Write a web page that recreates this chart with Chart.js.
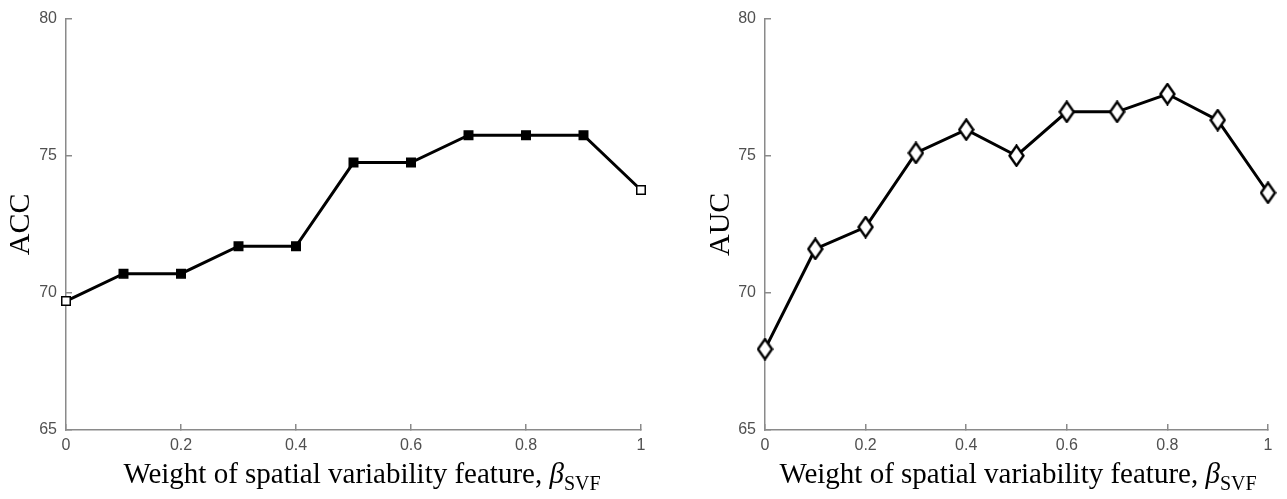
<!DOCTYPE html>
<html>
<head>
<meta charset="utf-8">
<script src="https://cdn.jsdelivr.net/npm/chart.js@4.4.0/dist/chart.umd.min.js"></script>
<style>
  html, body { margin: 0; padding: 0; background: #fff; }
  body { width: 1287px; height: 499px; position: relative; overflow: hidden; }
  .panel { position: absolute; top: -6px; }
  .xtitle { position: absolute; top: 457px; font-family: "Liberation Serif", "Times New Roman", serif; font-size: 29px; color: #000; white-space: nowrap; transform: translateX(-50%); }
  .xtitle sub { font-size: 20px; vertical-align: -7px; line-height: 0; }
</style>
</head>
<body>
<div class="panel" style="left:0px;"><canvas id="accChart" width="660" height="505"></canvas></div>
<div class="panel" style="left:700px;"><canvas id="aucChart" width="587" height="505"></canvas></div>
<div class="xtitle" id="xt1" style="left:362px;">Weight of spatial variability feature, <i>β</i><sub>SVF</sub></div>
<div class="xtitle" id="xt2" style="left:1018px;">Weight of spatial variability feature, <i>β</i><sub>SVF</sub></div>
<script>
const weights = [0, 0.1, 0.2, 0.3, 0.4, 0.5, 0.6, 0.7, 0.8, 0.9, 1];
const accValues = [69.7, 70.7, 70.7, 71.7, 71.7, 74.75, 74.75, 75.75, 75.75, 75.75, 73.75];
const aucValues = [67.95, 71.6, 72.4, 75.1, 75.95, 75.0, 76.6, 76.6, 77.25, 76.3, 73.65];
const xTickValues = [0, 0.2, 0.4, 0.6, 0.8, 1];
const yTickValues = [65, 70, 75, 80];

const axisColor = '#8a8a8a';
const tickFont = { family: 'Liberation Sans, Arial, sans-serif', size: 16 };
const tickColor = '#505050';

// tall diamond marker image (MATLAB-style 'd' marker)
function diamondImage() {
  const w = 17, h = 23;
  const c = document.createElement('canvas');
  c.width = w; c.height = h;
  const g = c.getContext('2d');
  g.beginPath();
  g.moveTo(w / 2, 1.5);
  g.lineTo(w - 1.5, h / 2);
  g.lineTo(w / 2, h - 1.5);
  g.lineTo(1.5, h / 2);
  g.closePath();
  g.fillStyle = '#fff';
  g.fill();
  g.lineWidth = 2.4;
  g.strokeStyle = '#000';
  g.lineJoin = 'miter';
  g.stroke();
  return c;
}

function makeChart(canvasId, values, yLabel, pointStyle, pointRadius, fillFn, yAxisWidth) {
  const n = values.length;
  return new Chart(document.getElementById(canvasId), {
    type: 'line',
    data: {
      datasets: [{
        data: weights.map((w, i) => ({ x: w, y: values[i] })),
        borderColor: '#000',
        borderWidth: 3,
        tension: 0,
        pointStyle: pointStyle,
        pointRadius: pointRadius,
        pointHoverRadius: pointRadius,
        pointBorderColor: '#000',
        pointBorderWidth: 1.5,
        pointBackgroundColor: ctx => fillFn(ctx.dataIndex, n),
        clip: false
      }]
    },
    options: {
      responsive: false,
      animation: false,
      events: [],
      layout: { padding: { top: 3, right: 19, left: 0, bottom: 0 } },
      plugins: { legend: { display: false }, tooltip: { enabled: false } },
      scales: {
        x: {
          type: 'linear',
          min: 0, max: 1,
          afterBuildTicks: s => { s.ticks = xTickValues.map(v => ({ value: v })); },
          afterFit: s => { s.height = 69; },
          border: { color: axisColor, width: 1.5 },
          grid: { drawOnChartArea: false, drawTicks: true, tickLength: -6, color: axisColor, lineWidth: 1.5 },
          ticks: { font: tickFont, color: tickColor, padding: 12, maxRotation: 0, callback: v => String(v) }
        },
        y: {
          min: 65, max: 80,
          afterBuildTicks: s => { s.ticks = yTickValues.map(v => ({ value: v })); },
          afterFit: s => { s.width = yAxisWidth; },
          border: { color: axisColor, width: 1.5 },
          grid: { drawOnChartArea: false, drawTicks: true, tickLength: -6, color: axisColor, lineWidth: 1.5 },
          ticks: { font: tickFont, color: tickColor, padding: 15, callback: v => String(v) },
          title: { display: true, text: yLabel, color: '#000', font: { family: 'Liberation Serif, Times New Roman, serif', size: 30 }, padding: { top: 3, bottom: 0 } }
        }
      }
    }
  });
}

makeChart('accChart', accValues, 'ACC', 'rect', 6, (i, n) => (i === 0 || i === n - 1) ? '#fff' : '#000', 66);
makeChart('aucChart', aucValues, 'AUC', diamondImage(), 8, () => '#fff', 65);
</script>
</body>
</html>
